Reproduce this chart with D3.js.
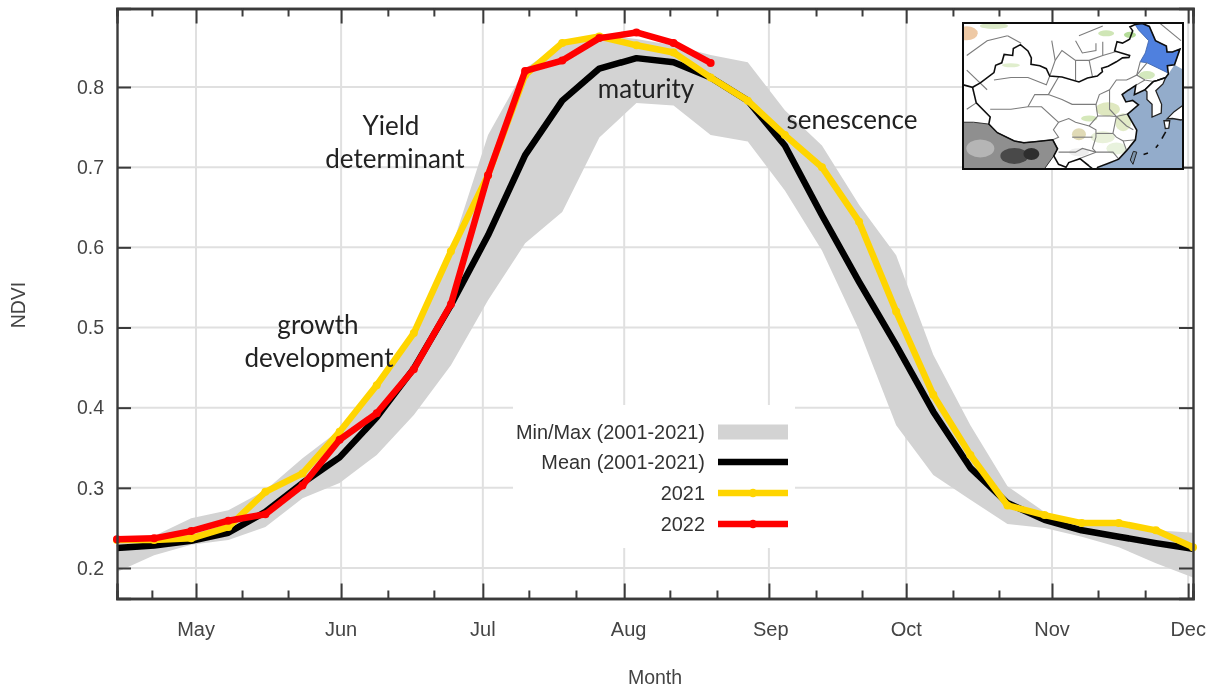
<!DOCTYPE html>
<html>
<head>
<meta charset="utf-8">
<title>NDVI crop profile</title>
<script src="https://d3js.org/d3.v7.min.js"></script>
<style>
  body { margin: 0; background: #fff; }
  text { font-family: "Liberation Sans", Arial, sans-serif; }
  .axis path { stroke: #3a3a3a; stroke-width: 2.4; }
  .axis line { stroke: #3a3a3a; stroke-width: 2; }
  .note { font-family: Lato, sans-serif; font-size: 26px; fill: #222; text-anchor: middle; }
</style>
</head>
<body>
<div id="chart"></div>
<script>
// 8-day composites
var ndviMin  = [0.195,0.216,0.229,0.235,0.251,0.287,0.306,0.341,0.391,0.453,0.534,0.605,0.644,0.737,0.780,0.777,0.740,0.732,0.671,0.596,0.497,0.378,0.316,0.285,0.255,0.250,0.239,0.226,0.206,0.188];
var ndviMax  = [0.232,0.240,0.262,0.272,0.297,0.337,0.372,0.430,0.497,0.597,0.740,0.823,0.855,0.865,0.860,0.852,0.840,0.831,0.771,0.727,0.653,0.590,0.466,0.378,0.302,0.270,0.257,0.259,0.247,0.244];
var ndviMean = [0.225,0.228,0.234,0.244,0.270,0.306,0.338,0.388,0.449,0.528,0.615,0.715,0.783,0.823,0.836,0.831,0.812,0.783,0.727,0.640,0.557,0.478,0.395,0.325,0.281,0.260,0.247,0.239,0.231,0.224];
var ndvi2021 = [0.235,0.235,0.237,0.251,0.295,0.318,0.370,0.428,0.493,0.595,0.690,0.815,0.855,0.863,0.852,0.843,0.812,0.783,0.740,0.700,0.632,0.520,0.416,0.341,0.278,0.266,0.256,0.256,0.247,0.226];
var ndvi2022 = [0.236,0.237,0.246,0.259,0.267,0.303,0.360,0.393,0.448,0.529,0.690,0.820,0.833,0.861,0.868,0.855,0.830];

var monthNames  = ["May","Jun","Jul","Aug","Sep","Oct","Nov","Dec"];
var monthTicks  = [2.13,6.04,9.86,13.67,17.57,21.27,25.20,28.87];  // in composite steps
var monthLabels = [2.13,6.04,9.86,13.79,17.62,21.27,25.20,28.87];
var minorTicks  = [0.94,3.37,4.61,7.30,8.54,11.10,12.37,14.90,16.17,18.84,20.08,22.53,23.77,26.44,27.71];
var ndviTicks   = [0.2,0.3,0.4,0.5,0.6,0.7,0.8];

var legendNames = ["Min/Max (2001-2021)","Mean (2001-2021)","2021","2022"];

var svg = d3.select("#chart").append("svg").attr("width",1216).attr("height",689).style("display","block");
var soft = svg.append("defs").append("filter").attr("id","soft");
soft.append("feGaussianBlur").attr("stdDeviation",0.45);
var clipMap = svg.select("defs").append("clipPath").attr("id","mapclip");

var root = svg.append("g").attr("filter","url(#soft)");

var x = d3.scaleLinear().domain([0,29]).range([117,1193]);
var y = d3.scaleLinear().domain([0.2,0.8]).range([568,87]);
var plotTop = 8.5, plotBottom = 598.5;

// grid
root.append("g").selectAll("line").data(monthTicks).enter().append("line")
  .attr("x1",function(d){return x(d);}).attr("x2",function(d){return x(d);})
  .attr("y1",plotTop).attr("y2",plotBottom).attr("stroke","#e0e0e0").attr("stroke-width",2);
root.append("g").selectAll("line").data(ndviTicks).enter().append("line")
  .attr("x1",117).attr("x2",1193)
  .attr("y1",function(d){return y(d);}).attr("y2",function(d){return y(d);})
  .attr("stroke","#e0e0e0").attr("stroke-width",2);

// band and lines
var area = d3.area().x(function(d,i){return x(i);})
  .y0(function(d,i){return y(ndviMin[i]);}).y1(function(d,i){return y(ndviMax[i]);});
root.append("path").datum(ndviMin).attr("d",area).attr("fill","#d3d3d3");

var line = d3.line().x(function(d,i){return x(i);}).y(function(d){return y(d);});
function drawLine(values,color,dots) {
  root.append("path").datum(values).attr("d",line).attr("fill","none")
    .attr("stroke",color).attr("stroke-width",6.5).attr("stroke-linejoin","round");
  if(dots) root.append("g").selectAll("circle").data(values).enter().append("circle")
    .attr("cx",function(d,i){return x(i);}).attr("cy",function(d){return y(d);})
    .attr("r",4).attr("fill",color);
}
drawLine(ndviMean,"#000000",false);
drawLine(ndvi2021,"#ffd500",true);
drawLine(ndvi2022,"#ff0000",true);

// axes
function noLabel(){return "";}
root.append("g").attr("class","axis").attr("transform","translate(0,"+plotBottom+")")
  .call(d3.axisBottom(x).tickValues(monthTicks).tickSize(-15).tickFormat(noLabel));
root.append("g").attr("class","axis").attr("transform","translate(0,"+plotBottom+")")
  .call(d3.axisBottom(x).tickValues(minorTicks).tickSize(-8).tickFormat(noLabel));
root.append("g").attr("class","axis").attr("transform","translate(0,"+plotTop+")")
  .call(d3.axisTop(x).tickValues(monthTicks).tickSize(-15).tickFormat(noLabel));
root.append("g").attr("class","axis").attr("transform","translate(0,"+plotTop+")")
  .call(d3.axisTop(x).tickValues(minorTicks).tickSize(-8).tickFormat(noLabel));
var yAxisScale = d3.scaleLinear().domain([y.invert(plotBottom),y.invert(plotTop)]).range([plotBottom,plotTop]);
root.append("g").attr("class","axis").attr("transform","translate(117,0)")
  .call(d3.axisLeft(yAxisScale).tickValues(ndviTicks).tickSize(-14).tickPadding(13).tickFormat(d3.format(".1f")))
  .selectAll("text").attr("font-size",19.5).attr("fill","#444");
root.append("g").attr("class","axis").attr("transform","translate(1193,0)")
  .call(d3.axisRight(yAxisScale).tickValues(ndviTicks).tickSize(-14).tickFormat(noLabel));
root.selectAll(".axis path").attr("fill","none");

root.append("g").selectAll("text").data(monthNames).enter().append("text")
  .attr("x",function(d,i){return x(monthLabels[i]);}).attr("y",636)
  .attr("text-anchor","middle").attr("font-size",20).attr("fill","#444")
  .text(function(d){return d;});
root.append("text").attr("x",655).attr("y",684).attr("text-anchor","middle")
  .attr("font-size",19.5).attr("fill","#444").text("Month");
root.append("text").attr("transform","translate(25,305) rotate(-90)").attr("text-anchor","middle")
  .attr("font-size",19.5).attr("fill","#444").text("NDVI");

// legend
root.append("rect").attr("x",513).attr("y",405).attr("width",282).attr("height",143).attr("fill","#fff");
var legendRows = [432,462,493,524];
root.append("g").selectAll("text").data(legendNames).enter().append("text")
  .attr("x",705).attr("y",function(d,i){return legendRows[i]+7;}).attr("text-anchor","end")
  .attr("font-size",19.9).attr("fill","#333").text(function(d){return d;});
root.append("rect").attr("x",718).attr("y",legendRows[0]-7.5).attr("width",70).attr("height",15).attr("fill","#d3d3d3");
[[1,"#000000",false],[2,"#ffd500",true],[3,"#ff0000",true]].forEach(function(k){
  root.append("line").attr("x1",718).attr("x2",788).attr("y1",legendRows[k[0]]).attr("y2",legendRows[k[0]])
    .attr("stroke",k[1]).attr("stroke-width",6.5);
  if(k[2]) root.append("circle").attr("cx",753).attr("cy",legendRows[k[0]]).attr("r",4.2).attr("fill",k[1]);
});

// notes
var notes = [["Yield",391,135],["determinant",395,168],["growth",318,334],["development",319,367],["maturity",646,98],["senescence",852,129]];
root.append("g").selectAll("text").data(notes).enter().append("text").attr("class","note")
  .attr("x",function(d){return d[1];}).attr("y",function(d){return d[2];}).text(function(d){return d[0];});

// inset map, lon/lat traced roughly by eye
var lonScale = d3.scaleLinear().domain([70.9,135.6]).range([963,1183]);
var latScale = d3.scaleLinear().domain([53.6,42,34.4,23.7,20.9]).range([23,80,117,157,169]);
var geo = d3.line().x(function(d){return lonScale(d[0]);}).y(function(d){return latScale(d[1]);});

var chinaNorth = [[71,41],[73.7,40.5],[76,41.4],[80,43.5],[80.5,45],[82.3,45.5],[83,47.2],[85.5,47],[85.7,48.4],[87.8,49.2],[90,47.9],[91,46.5],[90.9,45.2],[93.5,44.9],[95.4,44.3],[96.4,42.8],[100,42.6],[105,41.6],[107.5,42.4],[110.4,42.8],[111.9,43.7],[111.7,44.4],[113.6,44.8],[116,45.7],[117.8,46.5],[119.7,46.6],[119.9,47],[115.5,47.9],[116.2,49.8],[117.8,49.5],[119.9,50.3],[120.8,52],[120,52.8],[121.5,53.3],[123.6,53.5],[125.7,52.9],[127.5,50],[130.7,48.9],[130.9,47.7],[132.5,47.7],[134.7,48.3],[133.1,45.1],[131,44.9],[131.3,43.2],[130.5,42.5],[128,41.9],[126.9,41.7],[124.4,40]];
var chinaCoast = [[124.4,40],[121.3,39],[121.7,40.9],[119.5,39.9],[117.7,39],[118.8,37.5],[120.8,37.8],[122.5,36.9],[119.3,35],[120.9,32.6],[122,30.9],[121.6,28.3],[119,25.4],[116.7,23.2],[113.5,22.2],[110.5,21.3],[110,20.3],[108,21.6]];
var chinaSouth = [[108,21.6],[105.3,23.3],[102,22.4],[101.2,21.3],[99,22],[97.6,24],[98.7,25.9],[97.3,28.3],[92,27.8],[88.8,27.5],[86,28],[81,30.2],[78.5,32.5],[78.9,34.4],[74.8,37.3],[73.7,40.5]];
var seaEdge = [[108,21.6],[108,20],[136,20],[136,44],[133.1,45.1],[131.3,43.2],[130.5,42.5],[129.7,41.2],[127.6,39.8],[129.3,37],[129.2,35.2],[126.5,34.4],[126.5,37],[125,38],[125,39.6],[124.4,40]];
var heilongjiang = [[121.5,53.3],[123.6,53.5],[125.7,52.9],[127.5,50],[130.7,48.9],[130.9,47.7],[132.5,47.7],[134.7,48.3],[133.1,45.1],[131,44.9],[131,43.5],[128,44.5],[125,45.5],[123,45.7],[124.5,47.5],[125.5,50],[122.5,52.2]];
var southAsia = [[71,20],[71,33],[74,33],[78.5,32.5],[81,30.2],[86,28],[88.8,27.5],[92,27.8],[97.3,28.3],[98.7,25.9],[97.6,24],[94,20]];
var korea = [[124.4,40],[126.9,41.7],[128,41.9],[130.5,42.5],[129.7,41.2],[127.6,39.8],[129.3,37],[129.2,35.2],[126.5,34.4],[126.5,37],[125,38],[125,39.6]];
var honshu = [[130.9,33.9],[133,35.5],[136,37],[136,34],[135,33.6],[132.5,34],[130.9,33.9]];
var kyushu = [[130,33.4],[131.7,33.4],[131.4,31.4],[130.4,31.3]];
var taiwan = [[121,25.2],[122,25],[120.9,22],[120.1,23]];
var ryukyu = [[[130.5,30.4],[129.4,28.6]],[[128.3,27],[127.6,26.2]],[[125.3,24.8],[124,24.4]]];
var provinces = [
  [[80,42],[85,42.5],[90,42.5],[95.4,41],[96.4,42.8]],
  [[78.9,36],[85,36],[90,36.5],[94,36.5],[99,33],[97.5,31],[99,29],[97.3,28.3]],
  [[90,36.5],[92,39],[96,39],[99,42.6]],
  [[99,33],[102,34],[104,33],[108,32],[110,31],[110,29],[109,26],[110,25],[112,25],[115,25],[116.7,23.2]],
  [[96,39],[100,38],[103,37],[105,37],[107,37],[110,37],[111,39],[114,40],[116,42],[119,42],[122,43],[123,45.7]],
  [[110,37],[110.5,34.6],[114,34.6],[116,34.5],[119.3,35]],
  [[114,40],[114,36],[116,34.5],[115,30],[116,29],[118,28],[119,25.4]],
  [[108,32],[110.5,34.6]],[[103,29],[105,29],[109,29]],[[99,25],[104,25],[106,26],[110,25]],[[105,23.3],[110,25]],
  [[115,30],[110,30]],[[118,28],[121.6,28.3]],[[116,34.5],[119,32],[121,31]],
  [[125,45.5],[122,43],[124.4,42],[126.9,41.7]],[[121.7,40.9],[124.4,42]],
  [[98,46],[100,48],[104,46],[108,46],[112,47],[116,47.8]],[[96.4,42.8],[98,46],[97,50]],[[104,46],[104,41.9]],[[108,46],[109,42.6]],
  [[104,50],[106,47.5],[110,48],[110,49.5]],[[112,47],[112,49.8]],
  [[84,51],[88,49.5]],[[72,47],[78,50],[84,51]],[[135,50],[128,54]],[[105,51],[112,53]],[[78,40],[72,44]],[[72,36],[74.8,37.3]]
];
var blotches = [[72,51.5,11,7,"#eec9a5"],[80,53,14,3,"#dbe9c8"],[113,51.5,8,3,"#cfe6b6"],[120,51.2,6,3,"#b4dc98"],[113.5,36,12,7,"#dfe8c0"],[118,33,8,9,"#e2ebc8"],[125,43,8,4,"#d3e8bd"],[128,46,6,3,"#c8e0b6"],[105,29.8,7,6,"#e0dab6"],[112,29,12,6,"#e9f1da"],[116,26,10,6,"#e8f2dd"],[108,34,8,3,"#d5e8ba"],[85,45,9,2,"#e0eecd"],[105,25,10,4,"#eeeeee"]];
var shade = [[86,24,14,8,"#4a4a4a"],[91,24.5,8,6,"#2e2e2e"],[76,26,14,9,"#b5b5b5"]];

var mapG = root.append("g").attr("clip-path","url(#mapclip)");
clipMap.append("rect").attr("x",963).attr("y",23).attr("width",220).attr("height",146);
mapG.append("rect").attr("x",963).attr("y",23).attr("width",220).attr("height",146).attr("fill","#fff");
mapG.selectAll(".blotch").data(blotches).enter().append("ellipse").attr("class","blotch")
  .attr("cx",function(d){return lonScale(d[0]);}).attr("cy",function(d){return latScale(d[1]);})
  .attr("rx",function(d){return d[2];}).attr("ry",function(d){return d[3];}).attr("fill",function(d){return d[4];});
mapG.append("path").attr("d",geo(southAsia)+"Z").attr("fill","#8f8f8f").attr("stroke","#333").attr("stroke-width",1);
mapG.selectAll(".shade").data(shade).enter().append("ellipse").attr("class","shade")
  .attr("cx",function(d){return lonScale(d[0]);}).attr("cy",function(d){return latScale(d[1]);})
  .attr("rx",function(d){return d[2];}).attr("ry",function(d){return d[3];}).attr("fill",function(d){return d[4];});
mapG.append("path").attr("d",geo(seaEdge.concat(chinaCoast))+"Z").attr("fill","#93accb");
mapG.append("path").attr("d",geo(heilongjiang)+"Z").attr("fill","#4f80de").attr("stroke","#3a5fa8").attr("stroke-width",0.8);
[korea,honshu,kyushu].forEach(function(p){
  mapG.append("path").attr("d",geo(p)+"Z").attr("fill","#fff").attr("stroke","#222").attr("stroke-width",1.3);
});
mapG.append("path").attr("d",geo(taiwan)+"Z").attr("fill","#7d95ad").attr("stroke","#222").attr("stroke-width",1);
mapG.selectAll(".ryukyu").data(ryukyu).enter().append("path").attr("class","ryukyu")
  .attr("d",geo).attr("fill","none").attr("stroke","#111").attr("stroke-width",1.6);
mapG.selectAll(".prov").data(provinces).enter().append("path").attr("class","prov")
  .attr("d",geo).attr("fill","none").attr("stroke","#7c7c7c").attr("stroke-width",1.1);
[chinaNorth,chinaCoast,chinaSouth].forEach(function(p){
  mapG.append("path").attr("d",geo(p)).attr("fill","none").attr("stroke","#111").attr("stroke-width",1.6);
});
root.append("rect").attr("x",963).attr("y",23).attr("width",220).attr("height",146)
  .attr("fill","none").attr("stroke","#111").attr("stroke-width",2);
</script>
</body>
</html>
